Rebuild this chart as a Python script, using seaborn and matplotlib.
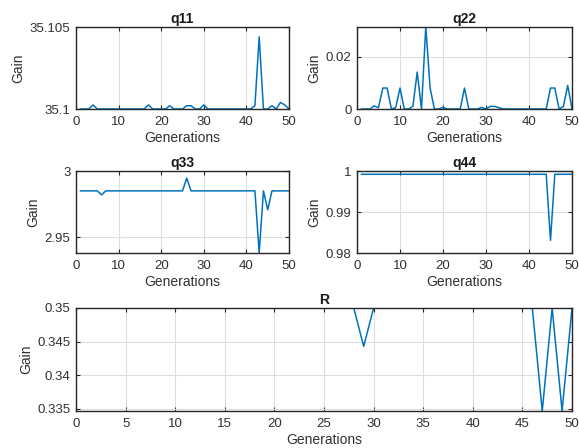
import numpy as np
import pandas as pd
import matplotlib
matplotlib.use("Agg")
import matplotlib.pyplot as plt
import seaborn as sns

# generations 1..50
gens = list(range(1, 51))

# q11 = 35.1 + small deviations (units of 1e-4)
q11_dev = [0, 0, 0, 2.5, 0, 0, 0, 0, 0, 0,
           0, 0, 0, 0, 0, 0, 2.5, 0, 0, 0,
           0, 2, 0, 0, 0, 2, 2, 0, 0, 2.5,
           0, 0, 0, 0, 0, 0, 0, 0, 0, 0,
           0, 2, 44, 0, 0, 2, 0, 4, 2.5, 0]
q11 = [35.1 + d * 1e-4 for d in q11_dev]

q22 = [0, 0, 0, 0.0012, 0.0005, 0.008, 0.008, 0, 0.0005, 0.008,
       0, 0, 0.001, 0.0141, 0, 0.0315, 0.008, 0, 0, 0.0006,
       0, 0, 0, 0, 0.008, 0, 0, 0, 0.0006, 0,
       0.001, 0.001, 0.0005, 0, 0, 0, 0, 0, 0, 0,
       0, 0, 0, 0, 0.008, 0.008, 0, 0.001, 0.009, 0]

q33 = [2.985] * 50
q33[5] = 2.982
q33[25] = 2.9946
q33[42] = 2.9381
q33[44] = 2.9708

q44 = [0.9992] * 50
q44[44] = 0.9831

R = [0.35] * 50
R[28] = 0.3443
R[46] = 0.3347
R[48] = 0.3347

titles = ["q11", "q22", "q33", "q44", "R"]
series = [q11, q22, q33, q44, R]
ylims = [(35.1, 35.105), (0, 0.0313), (2.9381, 3.0), (0.98, 1.0), (0.3347, 0.35)]
yticks = [[35.1, 35.105], [0, 0.02], [2.95, 3.0], [0.98, 0.99, 1.0],
          [0.335, 0.34, 0.345, 0.35]]
ytick_labels = [["35.1", "35.105"], ["0", "0.02"], ["2.95", "3"],
                ["0.98", "0.99", "1"], ["0.335", "0.34", "0.345", "0.35"]]

sns.set_theme(style="white")
plt.rcParams["font.family"] = ["Liberation Sans", "DejaVu Sans"]

W, H = 579, 448
fig = plt.figure(figsize=(W / 100, H / 100), dpi=100)

# axes boxes in pixels: left, right, top, bottom
boxes = [(76, 289, 27, 109), (357, 572, 27, 109),
         (76, 289, 171, 253), (357, 572, 171, 253),
         (76, 572, 308, 411)]

line_col = "#0072BD"
ink = "#303030"

for i in range(5):
    l, r, t, b = boxes[i]
    ax = fig.add_axes([l / W, 1 - b / H, (r - l) / W, (b - t) / H])
    df = pd.DataFrame({"Generations": gens, "Gain": series[i]})
    sns.lineplot(data=df, x="Generations", y="Gain", ax=ax, color=line_col,
                 linewidth=1.1)
    ax.set_xlim(0, 50)
    ax.set_ylim(*ylims[i])
    if i == 4:
        ax.set_xticks(range(0, 51, 5))
    else:
        ax.set_xticks(range(0, 51, 10))
    ax.set_yticks(yticks[i])
    ax.set_yticklabels(ytick_labels[i])
    ax.grid(True, color="#dedede", linewidth=0.8)
    ax.set_axisbelow(True)
    for s in ax.spines.values():
        s.set_visible(True)
        s.set_color("#262626")
        s.set_linewidth(1.0)
    ax.tick_params(direction="in", length=3, width=0.8, top=True, right=True,
                   bottom=True, left=True, colors="#262626", labelsize=9.5,
                   labelcolor=ink)
    ax.tick_params(axis="x", pad=5)
    ax.tick_params(axis="y", pad=4)
    ax.set_title(titles[i], fontsize=10, fontweight="bold", color="#1a1a1a", pad=3)
    ax.set_xlabel("Generations", fontsize=10, color=ink, labelpad=2)
    ax.set_ylabel("Gain", fontsize=10, color=ink, labelpad=3)

fig.savefig("out.png", dpi=100, facecolor="white")
